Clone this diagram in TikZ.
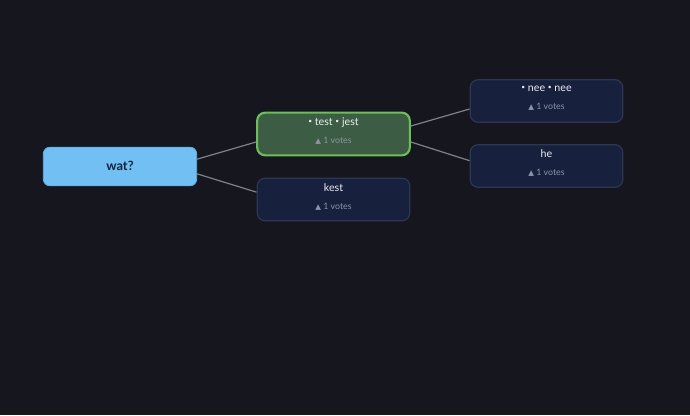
\documentclass[tikz,border=0pt]{standalone}
\usepackage{fontspec}
\setmainfont{Lato}
\newfontfamily\symfont{DejaVu Sans}
\usepackage{tikz}
\usetikzlibrary{positioning}
\definecolor{mm-bg}{HTML}{16161F}
\definecolor{mm-root}{HTML}{72BFF3}
\definecolor{mm-rootline}{HTML}{62AEE6}
\definecolor{mm-roottext}{HTML}{10213A}
\definecolor{mm-card}{HTML}{17203D}
\definecolor{mm-cardline}{HTML}{2D3652}
\definecolor{mm-pick}{HTML}{3C5D44}
\definecolor{mm-pickline}{HTML}{6CBE5A}
\definecolor{mm-text}{HTML}{ECEEF4}
\definecolor{mm-votes}{HTML}{8C93A6}
\definecolor{mm-link}{HTML}{80808E}
\newcommand{\votes}[1]{{\fontsize{6.6}{8}\selectfont\color{mm-votes}{\symfont\fontsize{5.6}{8}\selectfont ▲} #1 votes}}
\newcommand{\dotsep}{\raisebox{1.6pt}{\fontsize{5}{5}\selectfont •}}

\begin{document}
\begin{tikzpicture}[x=0.75pt, y=-0.75pt,
    root/.style={draw=mm-rootline, fill=mm-root, line width=0.6pt, rounded corners=5pt,
        minimum width=115pt, minimum height=29pt, text=mm-roottext,
        font=\fontsize{9.6}{11}\selectfont\bfseries},
    card/.style={draw=mm-cardline, fill=mm-card, line width=0.9pt, rounded corners=6pt,
        minimum width=114.5pt, minimum height=32pt, text=mm-text, align=center,
        text depth=4.5pt, font=\fontsize{8}{13.5}\selectfont},
    picked/.style={card, draw=mm-pickline, fill=mm-pick, line width=1.6pt},
    link/.style={draw=mm-link, line width=0.9pt}]
    % --- background
    \fill[mm-bg] (0,0) rectangle (690,415);
    \useasboundingbox (0,0) rectangle (690,415);

    % --- nodes
    \node[root] (wat) at (120,166.5) {\raisebox{1.5pt}{wat?}};
    \node[picked] (test) at (333.5,134) {\dotsep{} test \dotsep{} jest\\\votes{1}};
    \node[card] (kest) at (333.5,199.5) {kest\\\votes{1}};
    \node[card] (nee) at (546.5,101) {\dotsep{} nee \dotsep{} nee\\\votes{1}};
    \node[card] (he) at (546.5,166) {he\\\votes{1}};

    % --- links
    \draw[link] ([yshift=5.5pt]wat.east) -- ([yshift=-6pt]test.west);
    \draw[link] ([yshift=-5.5pt]wat.east) -- ([yshift=5.5pt]kest.west);
    \draw[link] ([yshift=6pt]test.east) -- ([yshift=-6pt]nee.west);
    \draw[link] ([yshift=-6pt]test.east) -- ([yshift=4pt]he.west);
\end{tikzpicture}
\end{document}
